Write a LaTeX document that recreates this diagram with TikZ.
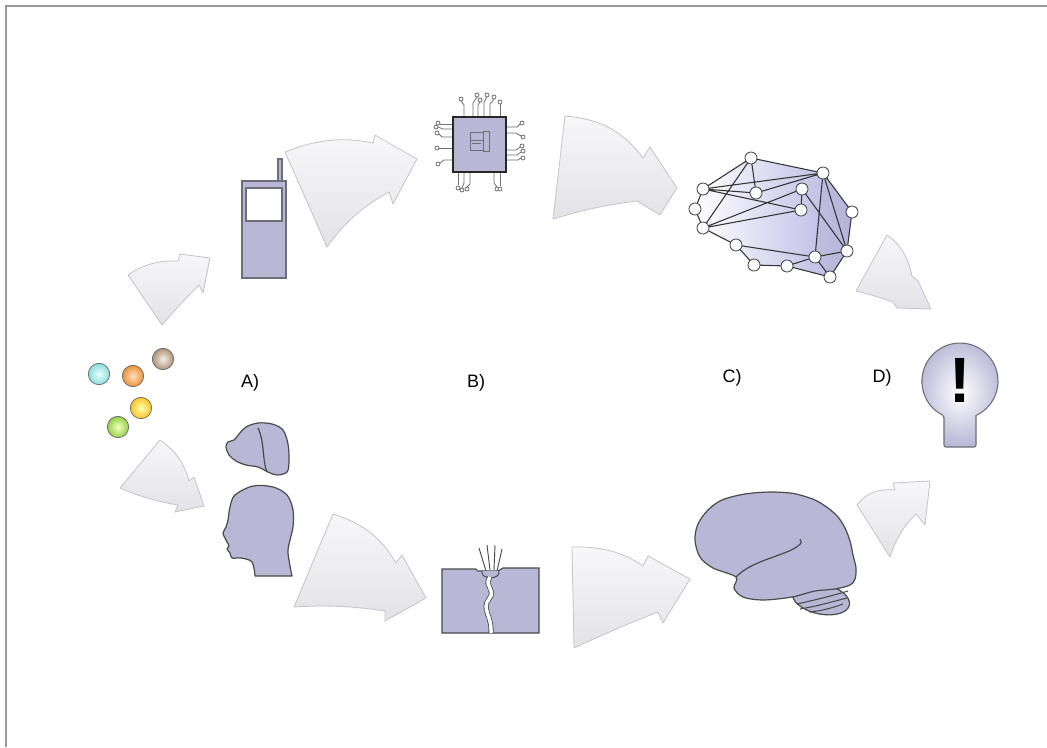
\documentclass[tikz,border=0pt]{standalone}
\usepackage{fontspec}
\usetikzlibrary{calc}
\newfontfamily\labelfont{Liberation Sans}
\definecolor{lav}{HTML}{B9B6D6}
\definecolor{ink}{HTML}{4A4A4A}
\definecolor{wire}{HTML}{6E6E78}
\definecolor{arrowline}{HTML}{C4C4C8}
\definecolor{arrowlight}{HTML}{F7F7F9}
\definecolor{arrowdark}{HTML}{E3E3E7}
% curved block arrow: tail top, bulge, shaft top, barb, tip, barb, shaft bottom, bulge, tail bottom
\newcommand\curvedarrow[9]{%
  \path[flowarrow] #1 .. controls ($#1!0.7!#2$) and ($#3!0.7!#2$) .. #3 -- #4 -- #5 -- #6 -- #7
    .. controls ($#7!0.7!#8$) and ($#9!0.7!#8$) .. #9 -- cycle;}
\newcommand\chippin[2]{%
  \draw[pinwire] #1;
  \draw[pinwire, fill=white] #2 circle[radius=2];}
\begin{document}
\begin{tikzpicture}[x=0.75pt,y=-0.75pt,
  every node/.style={inner sep=0pt, outer sep=0pt},
  flowarrow/.style={draw=arrowline, line width=0.6pt, line join=round,
    top color=arrowlight, bottom color=arrowdark},
  pinwire/.style={draw=wire, line width=0.6pt},
  shapeink/.style={draw=ink, line width=0.9pt, fill=lav, line join=round},
  netnode/.style={circle, draw=ink, fill=white, line width=0.65pt, minimum size=9pt},
  netedge/.style={draw=ink!70!black, line width=0.8pt},
  bead/.style={circle, draw=ink!80, line width=0.6pt, minimum size=16pt},
  steplabel/.style={font=\labelfont\fontsize{13.5}{14}\selectfont, text=black}
]
\useasboundingbox (0,0) rectangle (1047,747);
\fill[white] (0,0) rectangle (1047,747);
% frame
\draw[gray!80, line width=1.3pt] (6,747) -- (6,6) -- (1047,6);

% ---------- beads ----------
\node[bead, inner color=cyan!8!white, outer color=cyan!40!teal!45!white] (bcyan) at (99,374) {};
\node[bead, inner color=orange!25!white, outer color=orange!60!brown!85!white] (borange) at (133,376) {};
\node[bead, inner color=brown!12!white, outer color=brown!45!gray!85!white] (btaupe) at (163,359) {};
\node[bead, inner color=yellow!30!white, outer color=orange!55!yellow!85!white] (byellow) at (141,408) {};
\node[bead, inner color=green!20!yellow!25!white, outer color=green!45!yellow!60!gray!90!white] (bgreen) at (118,427) {};

% ---------- flow arrows ----------
\curvedarrow{(128,275)}{(150,260)}{(178,261)}{(180,254)}{(210,258)}{(203,293)}{(199,285)}{(180,304)}{(162,325)}
\curvedarrow{(285,152)}{(330,134)}{(373,143)}{(375,135)}{(417,159)}{(393,204)}{(389,192)}{(352,212)}{(327,247)}
\curvedarrow{(565,116)}{(615,120)}{(643,158)}{(650,147)}{(677,188)}{(660,215)}{(637,201)}{(596,206)}{(553,219)}
\curvedarrow{(887,235)}{(906,248)}{(912,276)}{(918,281)}{(931,309)}{(897,308)}{(893,302)}{(873,295)}{(856,291)}
\curvedarrow{(160,440)}{(182,455)}{(189,481)}{(194,477)}{(204,506)}{(175,512)}{(178,505)}{(148,500)}{(120,488)}
\curvedarrow{(333,514)}{(375,527)}{(396,563)}{(402,555)}{(426,598)}{(385,621)}{(385,611)}{(339,604)}{(294,607)}
\curvedarrow{(572,547)}{(614,546)}{(643,566)}{(648,556)}{(690,579)}{(663,623)}{(658,612)}{(617,628)}{(574,648)}
\curvedarrow{(857,505)}{(870,488)}{(895,490)}{(893,483)}{(930,481)}{(925,525)}{(916,514)}{(899,530)}{(890,557)}

% ---------- mobile phone ----------
\draw[draw=wire, fill=lav, line width=0.8pt] (278,159) rectangle (282,181);
\draw[draw=wire, fill=lav, line width=0.8pt] (242,181) rectangle (286,278);
\draw[draw=wire, fill=white, line width=0.8pt] (246,188) rectangle (282,221);

% ---------- chip ----------
\chippin{(464,117) -- (464,105) -- (461,101)}{(461,99)}
\chippin{(473,117) -- (473,103) -- (477,97)}{(477,95)}
\chippin{(478,117) -- (478,105) -- (480,102)}{(480,100)}
\chippin{(484,117) -- (484,102) -- (487,97)}{(487,95)}
\chippin{(490,117) -- (490,104) -- (494,99)}{(494,97)}
\chippin{(500,117) -- (500,104)}{(500,102)}
\chippin{(453,124) -- (440,124)}{(438,123)}
\chippin{(453,129) -- (443,129) -- (438,127)}{(436,127)}
\chippin{(453,137) -- (442,137) -- (439,134)}{(437,133)}
\chippin{(453,148) -- (439,148)}{(437,148)}
\chippin{(453,160) -- (444,160) -- (440,163)}{(438,164)}
\chippin{(506,127) -- (517,127) -- (520,124)}{(522,123)}
\chippin{(506,133) -- (516,133) -- (521,136)}{(523,137)}
\chippin{(506,150) -- (516,150) -- (520,147)}{(522,146)}
\chippin{(506,155) -- (517,155) -- (521,152)}{(523,151)}
\chippin{(506,160) -- (518,160) -- (521,158)}{(523,158)}
\chippin{(458,172) -- (458,185)}{(458,188)}
\chippin{(464,172) -- (464,183) -- (462,188)}{(462,190)}
\chippin{(470,172) -- (470,184) -- (467,187)}{(467,189)}
\chippin{(494,172) -- (494,183) -- (497,187)}{(497,189)}
\chippin{(500,172) -- (500,186)}{(500,189)}
\draw[fill=lav, draw=black!85, line width=1.3pt] (453,117) rectangle (506,172);
\draw[wire, line width=0.6pt] (470,132) rectangle (483,140) (470,140) rectangle (483,150)
  (483,131) rectangle (489,151) (472,143) -- (481,143);

% ---------- neural network ----------
\coordinate (c1) at (751,158);  \coordinate (c2) at (823,173);
\coordinate (c3) at (703,189);  \coordinate (c4) at (756,193);
\coordinate (c5) at (802,189);  \coordinate (c6) at (695,209);
\coordinate (c7) at (801,210);  \coordinate (c8) at (852,212);
\coordinate (c9) at (703,228);  \coordinate (c10) at (736,245);
\coordinate (c11) at (847,251); \coordinate (c12) at (815,257);
\coordinate (c13) at (754,265); \coordinate (c14) at (787,266);
\coordinate (c15) at (830,277);
\path[left color=white, right color=lav!90!blue!85!white]
  (c1) -- (c2) -- (c8) -- (c11) -- (c15) -- (c14) -- (c13) -- (c10) -- (c9) -- (c6) -- (c3) -- cycle;
\path[fill=lav, opacity=0.45] (c2) -- (c8) -- (c11) -- (c15) -- (c12) -- cycle;
\draw[netedge] (c1) -- (c2) -- (c8) -- (c11) -- (c15) -- (c14) -- (c13) -- (c10) -- (c9) -- (c6) -- (c3) -- (c1);
\draw[netedge] (c3) -- (c2) (c3) -- (c4) (c1) -- (c4) (c4) -- (c2) (c1) -- (c9)
  (c3) -- (c7) (c9) -- (c5) (c9) -- (c7) (c5) -- (c7) (c5) -- (c11)
  (c10) -- (c12) (c12) -- (c11) (c2) -- (c12) (c2) -- (c11) (c14) -- (c12) (c12) -- (c15);
\foreach \k in {1,...,15} \node[netnode] (n\k) at (c\k) {};

% ---------- insight bulb ----------
\shadedraw[draw=wire, line width=0.8pt, inner color=white, outer color=lav]
  (944,415.5) arc[start angle=114.9, end angle=425.1, radius=38]
  [rounded corners=1.5pt] -- (976,447) -- (944,447) -- cycle;
\node[font=\labelfont\bfseries\fontsize{48}{48}\selectfont] (bang) at (960,380) {!};

% ---------- dog ----------
\draw[shapeink] plot[smooth cycle, tension=0.55] coordinates {
  (226,447) (228,442) (234,440) (239,434) (246,427) (258,423) (272,424) (283,430) (288,444)
  (289,461) (287,472) (277,475) (268,472) (258,467) (246,465) (236,461) (229,455)};
\draw[ink, line width=0.9pt] (258,428) .. controls (265,443) and (262,460) .. (267,472);

% ---------- human head ----------
\draw[shapeink] plot[smooth, tension=0.55] coordinates {
  (255,576) (252,562) (241,558) (232,558) (230,553) (227,549) (229,546)
  (227,542) (225,538) (223,533) (226,527) (228,520) (230,507) (235,495)
  (253,486) (273,487) (287,495) (293,510) (293,527) (290,540) (288,553) (292,576)} -- cycle;

% ---------- skin and nerve ----------
\draw[draw=ink, fill=lav, line width=0.8pt]
  (442,569) -- (476,569) -- (478,571) -- (482,571) -- (498,571) -- (503,568) -- (539,568)
  -- (539,633) -- (442,633) -- cycle;
\draw[ink, line width=0.7pt] (486,571) -- (479,548) (490,570) -- (487,545)
  (494,570) -- (495,545) (497,571) -- (502,549);
\draw[draw=ink, fill=lav, line width=0.7pt] (482,571) .. controls (480,580) and (501,580) .. (499,571);
\draw[draw=ink, double=white, double distance=2.6pt, line width=0.6pt]
  (490,577) .. controls (483,587) and (497,589) .. (489,599)
  .. controls (481,609) and (492,615) .. (491,633);

% ---------- brain ----------
\draw[shapeink, rotate around={-12:(821,599)}] (821,599) ellipse[x radius=29, y radius=15];
\draw[ink, line width=0.8pt] (797,604) .. controls (815,600) and (835,595) .. (848,591)
  (800,609) .. controls (818,606) and (835,601) .. (847,598)
  (809,612) .. controls (822,611) and (835,607) .. (843,604);
\draw[shapeink] plot[smooth cycle, tension=0.55] coordinates {
  (695,540) (698,524) (708,510) (722,500) (745,494) (770,492) (790,493) (800,495)
  (815,500) (828,508) (838,517) (845,528) (850,541) (853,555) (856,568) (855,579)
  (850,585) (835,589) (815,591) (792,597) (763,600) (743,597) (734,588) (736,577)
  (713,568) (700,557)};
\draw[ink, line width=0.9pt] (736,577) .. controls (752,560) and (785,556) .. (798,546)
  .. controls (802,543) and (802,541) .. (800,539);

% ---------- step labels ----------
\node[steplabel] (la) at (250,383) {A)};
\node[steplabel] (lb) at (476,383) {B)};
\node[steplabel] (lc) at (732,378) {C)};
\node[steplabel] (ld) at (882,378) {D)};
\end{tikzpicture}
\end{document}
